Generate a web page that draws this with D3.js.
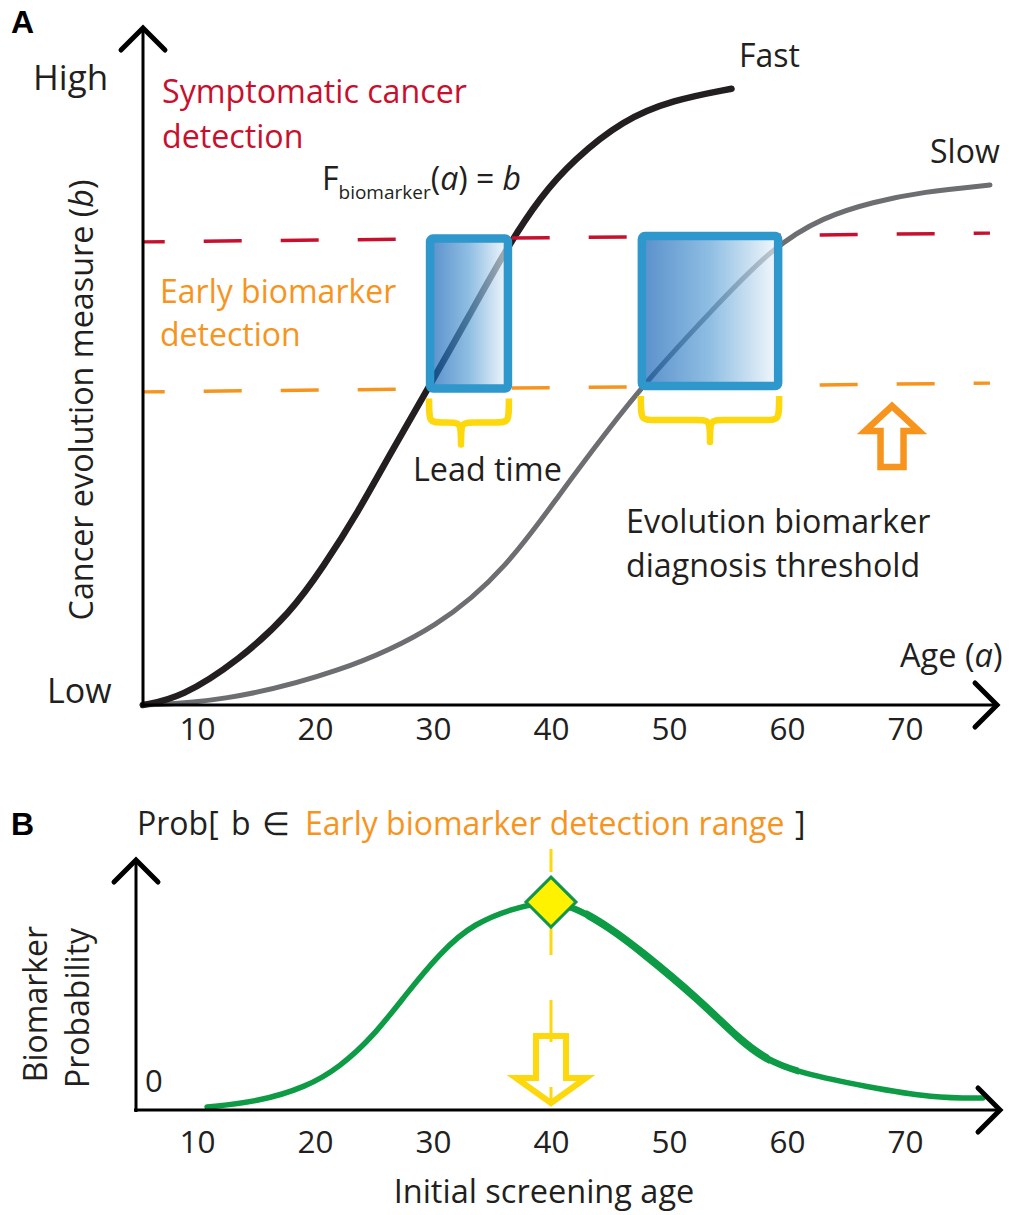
<!DOCTYPE html>
<html>
<head>
    <meta charset="utf-8">
    <title>Biomarker lead time</title>
    <script src="https://d3js.org/d3.v7.min.js"></script>
    <style>
        body { margin: 0; background: #fff; }
        svg text { font-family: 'Open Sans', sans-serif; fill: #231f20; }
        .panel-letter { font-family: 'Liberation Sans', Arial, sans-serif; font-weight: bold; }
    </style>
</head>
<body>
<div id="chart"></div>
<script>
    // ---- data ----
    const ageTicks = [10, 20, 30, 40, 50, 60, 70];

    // panel A: cancer evolution measure b (0 = low, 100 = high) against age
    const fastAge = [5.4, 8.6, 13.6, 17.9, 20.7, 23.6, 26.4, 29.5, 33.1, 36.3, 39.1, 41.9, 46.1, 50.3, 55.3];
    const fastB   = [0, 1.1, 7.2, 14.7, 22.1, 30.7, 40.3, 50.4, 62.4, 73.3, 81.3, 87.2, 93.6, 96.8, 98.6];
    const slowAge = [5.4, 12.0, 22.1, 30.6, 36.3, 40.8, 44.6, 48.4, 53.5, 58.8, 63.1, 67.3, 71.5, 77.2];
    const slowB   = [0, 0.5, 5.1, 12.5, 22.1, 33.9, 43.5, 52.5, 62.9, 73.3, 78.1, 80.5, 82.1, 83.2];

    // detection thresholds (level at the start and end of the line)
    const thresholdAges = [5.4, 77.2];
    const symptomaticLevel = [74.1, 75.5];
    const earlyLevel = [50.1, 51.5];

    // lead time windows (fast, slow)
    const leadStart = [29.75, 47.7];
    const leadEnd   = [36.35, 59.25];
    const thresholdArrowAge = 68.9;

    // panel B: probability that b is in the early biomarker range vs screening age
    const screenAge  = [10.85, 15.1, 19.3, 22.1, 24.9, 27.8, 30.6, 33.4, 37.6, 40.1, 42.2, 45.0, 47.5, 52.6, 56.0, 58.3, 61.1, 66.8, 72.4, 76.6];
    const screenProb = [1.3, 3.5, 10, 18.7, 31.7, 50.9, 68.3, 81.3, 89.1, 90.4, 87.8, 79.1, 69.6, 47.8, 30.4, 21.7, 16.1, 10, 5.2, 5.2];
    const peakAge = 40;
    const peakProb = 90.4;

    // ---- setup ----
    const width = 1015, height = 1215;
    const red = '#c8102e', orange = '#f7941d', yellow = '#fdd80c', green = '#0e9b45';

    const svg = d3.select('#chart').append('svg')
        .attr('width', width)
        .attr('height', height)
        .style('background', '#fff');

    const x = d3.scaleLinear().domain([10, 70]).range([197, 905]);
    const yA = d3.scaleLinear().domain([0, 100]).range([705, 80]);
    const yB = d3.scaleLinear().domain([0, 100]).range([1110, 880]);

    const levelAt = (levels, age) =>
        d3.scaleLinear().domain(thresholdAges).range(levels)(age);

    const defs = svg.append('defs');
    const grad = defs.append('linearGradient').attr('id', 'boxFill')
        .attr('x1', '0%').attr('x2', '100%').attr('y1', '0%').attr('y2', '0%');
    grad.append('stop').attr('offset', '0%').attr('stop-color', '#0b5cb3');
    grad.append('stop').attr('offset', '50%').attr('stop-color', '#5a9fd6');
    grad.append('stop').attr('offset', '100%').attr('stop-color', '#eef5fb');

    function arrowAxis(x1, y1, x2, y2, dir) {
        svg.append('line')
            .attr('x1', x1).attr('y1', y1).attr('x2', x2).attr('y2', y2)
            .attr('stroke', '#000').attr('stroke-width', 3);
        const h = 22;
        const pts = dir === 'up'
            ? [[x2 - h, y2 + h], [x2, y2], [x2 + h, y2 + h]]
            : [[x2 - h, y2 - h], [x2, y2], [x2 - h, y2 + h]];
        svg.append('path')
            .attr('d', d3.line()(pts))
            .attr('fill', 'none').attr('stroke', '#000')
            .attr('stroke-width', 5).attr('stroke-linecap', 'round').attr('stroke-linejoin', 'miter');
    }

    function addText(txt, xp, yp, size, color, anchor) {
        return svg.append('text')
            .attr('x', xp).attr('y', yp)
            .style('font-size', size + 'px')
            .style('fill', color || '#231f20')
            .attr('text-anchor', anchor || 'start')
            .text(txt);
    }

    // ================= Panel A =================
    svg.append('text').attr('class', 'panel-letter')
        .attr('x', 11).attr('y', 33).style('font-size', '32px').style('fill', '#000').text('A');

    const lineA = d3.line().x(d => x(d[0])).y(d => yA(d[1])).curve(d3.curveBasis);

    // curves
    svg.append('path').datum(d3.zip(slowAge, slowB))
        .attr('d', lineA).attr('fill', 'none')
        .attr('stroke', '#6d6e71').attr('stroke-width', 5).attr('stroke-linecap', 'round');
    svg.append('path').datum(d3.zip(fastAge, fastB))
        .attr('d', lineA).attr('fill', 'none')
        .attr('stroke', '#231f20').attr('stroke-width', 6.5).attr('stroke-linecap', 'round');

    // threshold dashed lines
    [[symptomaticLevel, red], [earlyLevel, orange]].forEach(([lv, col]) => {
        svg.append('line')
            .attr('x1', x(thresholdAges[0])).attr('y1', yA(lv[0]))
            .attr('x2', x(thresholdAges[1])).attr('y2', yA(lv[1]))
            .attr('stroke', col).attr('stroke-width', 3.5)
            .attr('stroke-dasharray', '38,39').attr('stroke-dashoffset', 16);
    });

    // lead time boxes
    leadStart.forEach((s, i) => {
        const e = leadEnd[i], mid = (s + e) / 2;
        const top = yA(levelAt(symptomaticLevel, mid));
        const bot = yA(levelAt(earlyLevel, mid));
        svg.append('rect')
            .attr('x', x(s)).attr('y', top)
            .attr('width', x(e) - x(s)).attr('height', bot - top)
            .attr('rx', 3)
            .attr('fill', 'url(#boxFill)').attr('fill-opacity', 0.68)
            .attr('stroke', '#2e97cc').attr('stroke-width', 8.5);

        // curly brace below
        const x0 = x(s) - 1, x1 = x(e) + 1, xm = x(mid) - (i === 0 ? 8 : 0);
        const y0 = bot + 10, ym = y0 + 24, yt = y0 + 46;
        const r = 14;
        const p = `M${x0},${y0} C${x0},${ym} ${x0},${ym} ${x0 + r},${ym} L${xm - r},${ym}
                   C${xm},${ym} ${xm},${ym} ${xm},${yt}
                   C${xm},${ym} ${xm},${ym} ${xm + r},${ym} L${x1 - r},${ym}
                   C${x1},${ym} ${x1},${ym} ${x1},${y0}`;
        svg.append('path').attr('d', p).attr('fill', 'none')
            .attr('stroke', yellow).attr('stroke-width', 6.5).attr('stroke-linejoin', 'round');
    });

    // hollow orange arrow pointing up to the threshold
    (function () {
        const cx = x(thresholdArrowAge), tip = 406;
        const pts = [[cx, tip], [cx + 27, tip + 25], [cx + 11.5, tip + 25], [cx + 11.5, tip + 61],
                     [cx - 11.5, tip + 61], [cx - 11.5, tip + 25], [cx - 27, tip + 25]];
        svg.append('path').attr('d', d3.line()(pts) + 'Z')
            .attr('fill', '#fff').attr('stroke', orange).attr('stroke-width', 6.5)
            .attr('stroke-linejoin', 'miter');
    })();

    // axes
    arrowAxis(143, 707, 143, 28, 'up');
    arrowAxis(141, 705, 997, 705, 'right');

    svg.append('g').attr('transform', 'translate(0,705)')
        .call(d3.axisBottom(x).tickValues(ageTicks).tickSize(0).tickPadding(13))
        .call(g => g.select('.domain').remove())
        .call(g => g.selectAll('text')
            .attr('font-family', null).style('font-size', '31.5px').style('fill', '#231f20'));

    // labels
    addText('High', 33, 90, 35);
    addText('Low', 47, 703, 34);
    addText('Symptomatic cancer', 162, 103, 32.2, red);
    addText('detection', 162, 148, 32.2, red);
    addText('Early biomarker', 160, 303, 32, orange);
    addText('detection', 160, 346, 32, orange);
    addText('Fast', 739, 67, 32);
    addText('Slow', 930, 163, 32);
    addText('Lead time', 413, 481, 32.3);
    addText('Evolution biomarker', 626, 533, 32.2);
    addText('diagnosis threshold', 626, 577, 32.2);

    const ageLab = addText('Age (', 900, 667, 32.5);
    ageLab.append('tspan').style('font-style', 'italic').text('a');
    ageLab.append('tspan').text(')');

    const fLab = addText('F', 322, 190, 32);
    fLab.append('tspan').attr('dy', 9).style('font-size', '19px').text('biomarker');
    fLab.append('tspan').attr('dy', -9).text('(');
    fLab.append('tspan').style('font-style', 'italic').text('a');
    fLab.append('tspan').text(') = ');
    fLab.append('tspan').style('font-style', 'italic').text('b');

    const yLab = svg.append('text')
        .attr('transform', 'translate(93,400) rotate(-90)')
        .attr('text-anchor', 'middle')
        .style('font-size', '32.3px')
        .text('Cancer evolution measure (');
    yLab.append('tspan').style('font-style', 'italic').text('b');
    yLab.append('tspan').text(')');

    // ================= Panel B =================
    svg.append('text').attr('class', 'panel-letter')
        .attr('x', 11).attr('y', 835).style('font-size', '32px').style('fill', '#000').text('B');

    const prob = addText('Prob[', 137, 835, 32);
    prob.append('tspan').attr('x', 231).text('b');
    prob.append('tspan').attr('x', 262).text('\u2208');
    prob.append('tspan').attr('x', 305).style('fill', orange).text('Early biomarker detection range');
    prob.append('tspan').attr('x', 795).text(']');

    const lineB = d3.line().x(d => x(d[0])).y(d => yB(d[1])).curve(d3.curveBasis);
    const screenPts = d3.zip(screenAge, screenProb);
    svg.append('path').datum(screenPts)
        .attr('d', lineB).attr('fill', 'none')
        .attr('stroke', green).attr('stroke-width', 5.5).attr('stroke-linecap', 'round');

    // the falling side is drawn a little heavier in the original: overlay clipped copies
    [[41.5, 61, 6.6], [43, 58.5, 7.8]].forEach(([a0, a1, w], i) => {
        defs.append('clipPath').attr('id', 'heavy' + i)
            .append('rect').attr('x', x(a0)).attr('width', x(a1) - x(a0))
            .attr('y', 850).attr('height', 280);
        svg.append('path').datum(screenPts)
            .attr('d', lineB).attr('fill', 'none')
            .attr('clip-path', `url(#heavy${i})`)
            .attr('stroke', green).attr('stroke-width', w);
    });

    // hollow yellow arrow pointing down to the peak screening age
    (function () {
        const cx = x(peakAge), top = 1036, tip = 1103;
        const pts = [[cx - 15, top], [cx + 15, top], [cx + 15, 1078], [cx + 35, 1078], [cx, tip],
                     [cx - 35, 1078], [cx - 15, 1078]];
        svg.append('path').attr('d', d3.line()(pts) + 'Z')
            .attr('fill', '#fff').attr('stroke', yellow).attr('stroke-width', 6)
            .attr('stroke-linejoin', 'miter');
    })();

    // dashed guide at the peak
    svg.append('line')
        .attr('x1', x(peakAge)).attr('x2', x(peakAge))
        .attr('y1', 849).attr('y2', 1105)
        .attr('stroke', yellow).attr('stroke-width', 3)
        .attr('stroke-dasharray', '23,56,27,45,42,45,18');

    // diamond marker at the peak
    const d = 25, px = x(peakAge), py = yB(peakProb);
    svg.append('path')
        .attr('d', d3.line()([[px, py - d], [px + d, py], [px, py + d], [px - d, py]]) + 'Z')
        .attr('fill', '#fff200').attr('stroke', '#0f9648').attr('stroke-width', 3);

    arrowAxis(136, 1112, 136, 860, 'up');
    arrowAxis(134, 1110, 1000, 1110, 'right');

    svg.append('g').attr('transform', 'translate(0,1110)')
        .call(d3.axisBottom(x).tickValues(ageTicks).tickSize(0).tickPadding(21))
        .call(g => g.select('.domain').remove())
        .call(g => g.selectAll('text')
            .attr('font-family', null).style('font-size', '31.5px').style('fill', '#231f20'));

    addText('0', 145, 1092, 31);
    addText('Initial screening age', 544, 1203, 32.5, null, 'middle');

    svg.append('text').attr('transform', 'translate(47,1004) rotate(-90)')
        .attr('text-anchor', 'middle').style('font-size', '32px').text('Biomarker');
    svg.append('text').attr('transform', 'translate(89,1008) rotate(-90)')
        .attr('text-anchor', 'middle').style('font-size', '32px').text('Probability');
</script>
</body>
</html>
